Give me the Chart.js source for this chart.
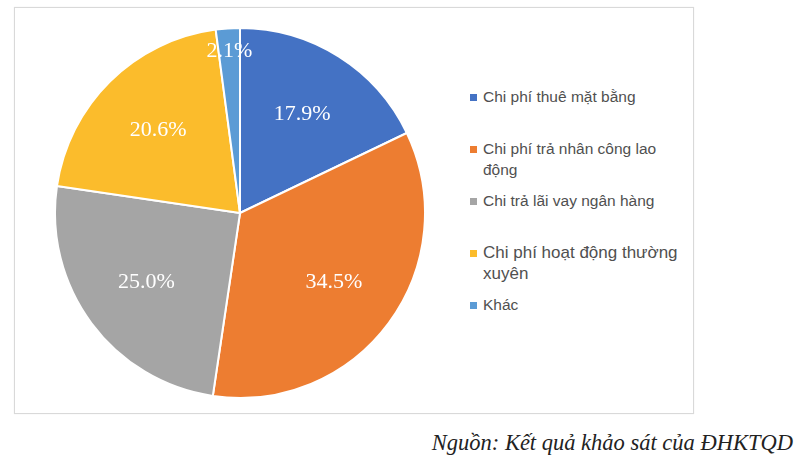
<!DOCTYPE html>
<html>
<head>
<meta charset="utf-8">
<script src="https://cdn.jsdelivr.net/npm/chart.js@4"></script>
<style>
  body { margin:0; width:800px; height:465px; background:#fff; position:relative; overflow:hidden; }
  #frame { position:absolute; left:14px; top:7px; width:678px; height:405px; border:1px solid #d9d9d9; box-shadow:0 0 1px #e6e6e6; }
  #pieWrap { position:absolute; left:54px; top:27px; width:372px; height:372px; }
  #legend { position:absolute; left:470px; top:86px; font-family:"Liberation Sans", Arial, sans-serif; color:#505050; }
  .item { position:relative; height:52px; font-size:15.5px; line-height:21px; padding-left:13px; width:205px; }
  .item .sw { position:absolute; left:0; top:8px; width:7px; height:7px; }
  .item.big { font-size:17px; line-height:21px; }
  #source { position:absolute; right:7px; top:430px; font-family:"Liberation Serif", "Times New Roman", serif; font-style:italic; font-size:22.5px; color:#222; }
</style>
</head>
<body>
<div id="frame"></div>
<div id="pieWrap"><canvas id="pie"></canvas></div>
<div id="legend"></div>
<div id="source">Nguồn: Kết quả khảo sát của ĐHKTQD</div>
<script>
const categories = [
  'Chi phí thuê mặt bằng',
  'Chi phí trả nhân công lao động',
  'Chi trả lãi vay ngân hàng',
  'Chi phí hoạt động thường xuyên',
  'Khác'
];
const shares = [17.9, 34.5, 25.0, 20.6, 2.1];
const colors = ['#4472C4', '#ED7D31', '#A5A5A5', '#FBBC2C', '#5B9BD5'];

// legend, built from the same arrays
const legend = document.getElementById('legend');
categories.forEach(function(name, i){
  const row = document.createElement('div');
  row.className = 'item' + (i === 3 ? ' big' : '');
  const sw = document.createElement('span');
  sw.className = 'sw';
  sw.style.background = colors[i];
  row.appendChild(sw);
  row.appendChild(document.createTextNode(name));
  legend.appendChild(row);
});

// percent labels drawn inside the slices
const pctLabels = {
  id: 'pctLabels',
  afterDatasetsDraw: function(chart){
    const ctx = chart.ctx;
    const meta = chart.getDatasetMeta(0);
    ctx.save();
    ctx.fillStyle = '#fff';
    ctx.font = '22px "Liberation Serif", "Times New Roman", serif';
    ctx.textAlign = 'center';
    ctx.textBaseline = 'middle';
    meta.data.forEach(function(arc, i){
      const p = arc.getProps(['x','y','startAngle','endAngle','outerRadius'], true);
      const mid = (p.startAngle + p.endAngle) / 2;
      const k = shares[i] < 5 ? 0.875 : 0.63;
      const r = p.outerRadius * k;
      ctx.fillText(shares[i].toFixed(1) + '%', p.x + Math.cos(mid) * r, p.y + Math.sin(mid) * r);
    });
    ctx.restore();
  }
};

new Chart(document.getElementById('pie'), {
  type: 'pie',
  data: {
    labels: categories,
    datasets: [{
      data: shares,
      backgroundColor: colors,
      borderColor: '#fff',
      borderWidth: 2
    }]
  },
  options: {
    responsive: true,
    maintainAspectRatio: false,
    animation: false,
    layout: { padding: 0 },
    plugins: {
      legend: { display: false },
      tooltip: { enabled: false }
    }
  },
  plugins: [pctLabels]
});
</script>
</body>
</html>
